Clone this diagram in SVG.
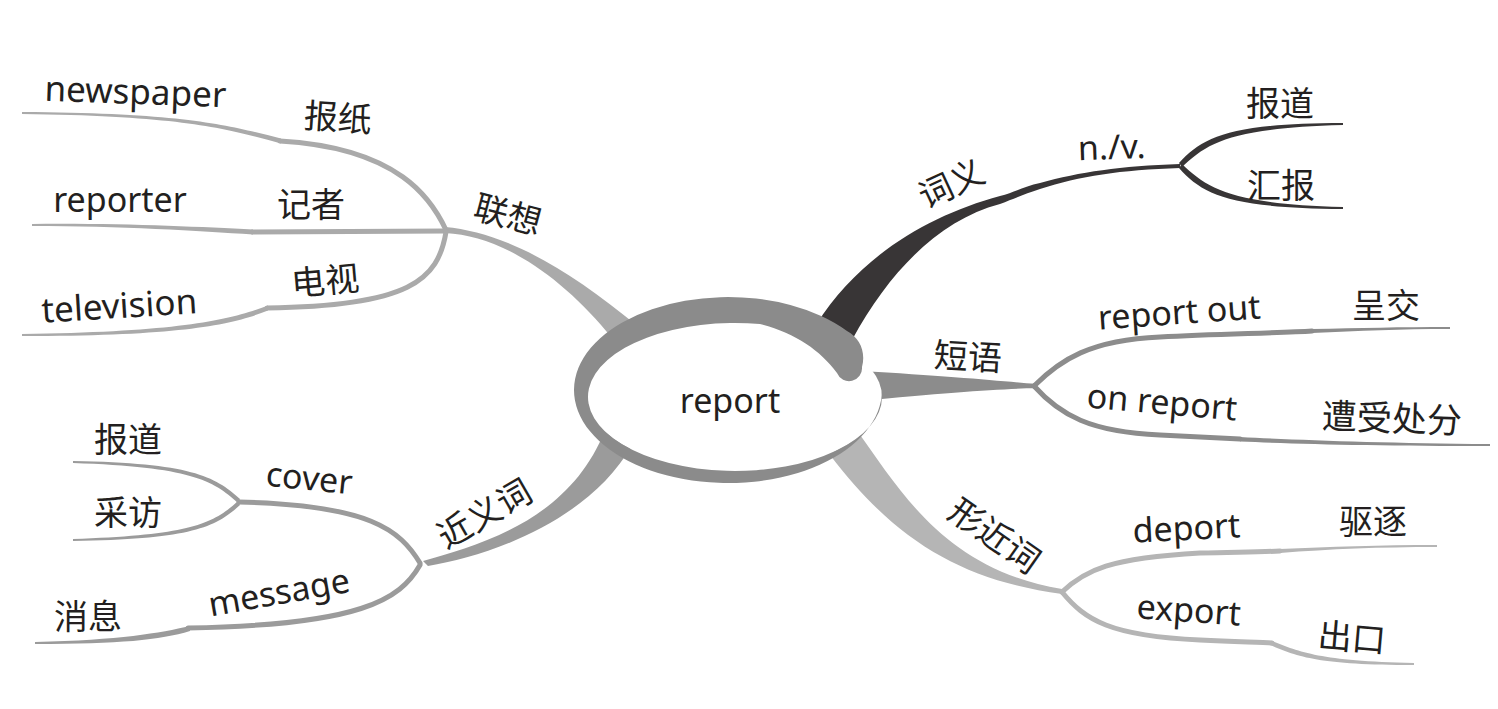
<svg xmlns="http://www.w3.org/2000/svg" width="1498" height="709" viewBox="0 0 1498 709">
<style>
.t{font-family:"Noto Sans","Open Sans","Liberation Sans",sans-serif;font-size:34px;fill:#231f20;text-anchor:middle}
.c{font-family:"Noto Sans CJK SC","Noto Sans",sans-serif;font-size:34px;fill:#231f20;text-anchor:middle}
.s{fill:none;stroke-width:5;stroke-linecap:round}
.lx{fill:#aaaaaa}.lxs{stroke:#aaaaaa}
.jy{fill:#9b9b9b}.jys{stroke:#9b9b9b}
.cy{fill:#383536}.cys{stroke:#383536}
.dy{fill:#8c8c8c}.dys{stroke:#8c8c8c}
.xj{fill:#b5b5b5}.xjs{stroke:#b5b5b5}
</style>
<rect width="1498" height="709" fill="#ffffff"/>
<g id="connectors">
  <!-- 联想 -->
  <path class="lx" d="M445,227 C500,232 560,262 640,328 L612,338 C565,280 505,236 445,233 Z"/>
  <path class="s lxs" d="M446,230 C432,200 400,148 280,141"/>
  <path class="lx" d="M281,138.5 C230,126 190,113 22,112 L22,114 C190,116 230,130 281,143.5 Z"/>
  <path class="s lxs" stroke-width="5.5" d="M446,231 L252,232"/>
  <path class="lx" d="M253,229.5 C200,227 120,223 32,224 L32,226 C120,226 200,231 253,234.5 Z"/>
  <path class="s lxs" d="M446,232 C438,280 410,306 267,308"/>
  <path class="lx" d="M268,305.5 C230,320 180,332 22,334 L22,336 C180,336 232,325 268,310.5 Z"/>
  <!-- 近义词 -->
  <path class="jy" d="M423,561 C480,545 570,520 605,430 L632,445 C590,520 490,556 428,566 Z"/>
  <path class="s jys" d="M420,563 C400,530 370,505 239,502"/>
  <path class="jy" d="M240,499 C215,476 190,463 73,461 L73,463 C190,467 213,480 238,503 Z"/>
  <path class="jy" d="M238,501 C213,524 190,535 73,539 L73,541 C190,539 215,528 240,505 Z"/>
  <path class="s jys" d="M420,565 C400,600 360,625 188,628"/>
  <path class="jy" d="M190,626 C160,633 120,640 35,642 L35,644 C120,644 160,640 190,631 Z"/>
  <!-- 词义 -->
  <path class="cy" d="M816,325 C860,255 930,215 1000,196 C1015,192 1025,186 1040,183 C1080,172 1120,166 1180,164 L1180,168 C1120,170 1080,176 1040,189 C1025,194 1015,198 1000,204 C940,220 890,270 852,340 Z"/>
  <path class="cy" d="M1179,163 C1203,137 1230,123 1343,123 L1343,125 C1232,128 1208,142 1182,167 Z"/>
  <path class="cy" d="M1182,164 C1208,189 1232,204 1343,207 L1343,209 C1230,208 1203,195 1179,168 Z"/>
  <!-- 短语 -->
  <path class="dy" d="M860,371 C950,376 1000,381 1036,384 L1036,388 C1000,389 950,392 860,401 Z"/>
  <path class="s dys" d="M1034,386 C1060,360 1090,340 1160,337 C1220,334 1280,333 1312,331"/>
  <path class="dy" d="M1312,329 C1360,328 1400,327 1450,327 L1450,329 C1400,329 1360,331 1312,333 Z"/>
  <path class="s dys" d="M1034,386 C1060,415 1090,432 1160,435 C1200,437 1220,438 1240,439"/>
  <path class="dy" d="M1240,437 C1300,440 1380,443 1490,444 L1490,446 C1380,446 1300,444 1240,441.5 Z"/>
  <!-- 形近词 -->
  <path class="xj" d="M858,432 C900,490 945,570 1062,589 L1062,594 C960,580 895,540 830,455 Z"/>
  <path class="s xjs" d="M1062,592 C1085,570 1110,558 1200,553 C1240,552 1260,552 1280,551"/>
  <path class="xj" d="M1280,549 C1330,547 1380,545 1437,545 L1437,547 C1380,547 1330,549 1280,553 Z"/>
  <path class="s xjs" d="M1062,592 C1085,620 1110,636 1200,640 C1240,642 1260,642 1272,643"/>
  <path class="xj" d="M1272,641 C1300,652 1320,661 1414,663 L1414,665 C1320,665 1298,657 1270,645 Z"/>
</g>
<g id="n-report">
  <ellipse cx="735" cy="397" rx="147" ry="74" fill="#ffffff"/>
  <path fill="#8b8b8b" d="M847,331 A154 93 0 1 0 882,390 L882,397 A147 74 0 1 1 760,324 C795,333 820,350 837,373 A13 13 0 0 0 862,367 C866,352 860,338 847,331 Z"/>
  <text class="t" x="730" y="413">report</text>
</g>
<g id="n-lianxiang"><text class="c" transform="translate(508,214) rotate(15)" y="13">联想</text></g>
<g id="n-baozhi"><text class="c" transform="translate(338,117) rotate(4)" y="13">报纸</text></g>
<g id="n-newspaper"><text class="t" style="font-size:35px" transform="translate(135,104) rotate(2)">newspaper</text></g>
<g id="n-jizhe"><text class="c" transform="translate(311,204)" y="13">记者</text></g>
<g id="n-reporter"><text class="t" transform="translate(120,212)">reporter</text></g>
<g id="n-dianshi"><text class="c" transform="translate(325,280) rotate(-5)" y="13">电视</text></g>
<g id="n-television"><text class="t" style="font-size:35px" transform="translate(120,318) rotate(-3.5)">television</text></g>
<g id="n-jinyici"><text class="c" transform="translate(484,513) rotate(-30)" y="13">近义词</text></g>
<g id="n-cover"><text class="t" transform="translate(308,490) rotate(6)">cover</text></g>
<g id="n-baodao-l"><text class="c" transform="translate(128,439)" y="13">报道</text></g>
<g id="n-caifang"><text class="c" transform="translate(128,512)" y="13">采访</text></g>
<g id="n-message"><text class="t" transform="translate(281,604) rotate(-10)">message</text></g>
<g id="n-xiaoxi"><text class="c" transform="translate(88,616)" y="13">消息</text></g>
<g id="n-ciyi"><text class="c" transform="translate(951,183) rotate(-25)" y="13">词义</text></g>
<g id="n-nv"><text class="t" transform="translate(1112,159) rotate(-2)">n./v.</text></g>
<g id="n-baodao-r"><text class="c" transform="translate(1280,103)" y="13">报道</text></g>
<g id="n-huibao"><text class="c" transform="translate(1281,185)" y="13">汇报</text></g>
<g id="n-duanyu"><text class="c" transform="translate(968,356) rotate(3)" y="13">短语</text></g>
<g id="n-reportout"><text class="t" transform="translate(1180,324) rotate(-4)">report out</text></g>
<g id="n-chengjiao"><text class="c" transform="translate(1386,305)" y="13">呈交</text></g>
<g id="n-onreport"><text class="t" transform="translate(1161,414) rotate(5)">on report</text></g>
<g id="n-zaoshou"><text class="c" style="font-size:35px" transform="translate(1392,418) rotate(2)" y="13">遭受处分</text></g>
<g id="n-xingjinci"><text class="c" transform="translate(995,535) rotate(35)" y="13">形近词</text></g>
<g id="n-deport"><text class="t" transform="translate(1187,540) rotate(-3)">deport</text></g>
<g id="n-quzhu"><text class="c" transform="translate(1373,521)" y="13">驱逐</text></g>
<g id="n-export"><text class="t" transform="translate(1188,622) rotate(4)">export</text></g>
<g id="n-chukou"><text class="c" transform="translate(1352,637) rotate(5)" y="13">出口</text></g>
</svg>
